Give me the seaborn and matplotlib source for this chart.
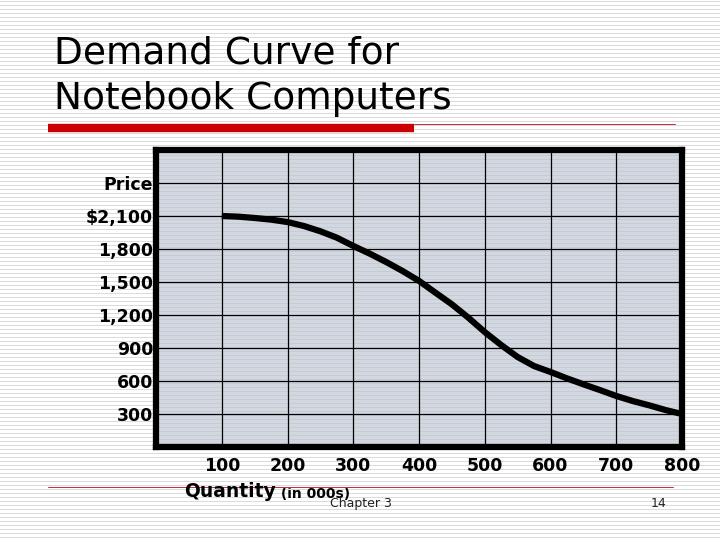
import numpy as np
import pandas as pd
import matplotlib
matplotlib.use("Agg")
import matplotlib.pyplot as plt
import seaborn as sns

# ---- data ----
quantity = [100, 125, 150, 175, 200, 225, 250, 275, 300, 325, 350, 375, 400,
            425, 450, 475, 500, 525, 550, 575, 600, 625, 650, 675, 700, 725, 750, 775, 800]
price = [2100, 2094, 2082, 2067, 2045, 2009, 1961, 1903, 1828, 1758, 1682, 1600, 1510,
         1403, 1297, 1176, 1045, 927, 818, 736, 682, 624, 570, 518, 464, 418, 379, 336, 300]
x_ticks = [100, 200, 300, 400, 500, 600, 700, 800]
x_labels = ["100", "200", "300", "400", "500", "600", "700", "800"]
y_ticks = [300, 600, 900, 1200, 1500, 1800, 2100, 2400]
y_labels = ["300", "600", "900", "1,200", "1,500", "1,800", "$2,100", "Price"]
title_line1 = "Demand Curve for"
title_line2 = "Notebook Computers"
xlabel_main = "Quantity"
xlabel_sub = " (in 000s)"
footer_left = "Chapter 3"
footer_right = "14"

df = pd.DataFrame({"Quantity": quantity, "Price": price})

sns.set_theme(style="white")
plt.rcParams["font.family"] = ["DejaVu Sans"]
plt.rcParams["text.color"] = "black"

W, H = 720, 540
fig = plt.figure(figsize=(7.2, 5.4), dpi=100)
fig.patch.set_facecolor("white")

# striped slide background
bg = fig.add_axes([0, 0, 1, 1], zorder=-10)
stripes = np.ones((H, 1, 3))
for r in range(H):
    if r % 4 == 1:
        stripes[r, 0, :] = 0.86
bg.imshow(stripes, aspect="auto", extent=[0, 1, 0, 1], interpolation="nearest")
bg.set_axis_off()

# decorations: red bar and thin lines
fig.add_artist(plt.Line2D([48 / W, 414 / W], [1 - 128 / H, 1 - 128 / H], color="#cc0000", lw=6, solid_capstyle="butt"))
fig.add_artist(plt.Line2D([414 / W, 675 / W], [1 - 123.5 / H, 1 - 123.5 / H], color="#b83040", lw=0.7))
fig.add_artist(plt.Line2D([48 / W, 673 / W], [1 - 487 / H, 1 - 487 / H], color="#b83040", lw=0.7))

# title
fig.text(54 / W, 1 - 63 / H, title_line1, fontsize=27, color="black", ha="left", va="baseline")
fig.text(54 / W, 1 - 109 / H, title_line2, fontsize=27, color="black", ha="left", va="baseline")

# main axes
left, right, top, bottom = 156, 682, 150, 447
ax = fig.add_axes([left / W, 1 - bottom / H, (right - left) / W, (bottom - top) / H])
ax.set_facecolor("#d2d8e0")
pstr = np.ones((bottom - top, 1, 3)) * np.array([0.83, 0.85, 0.88])
for r in range(bottom - top):
    if r % 4 == 1:
        pstr[r, 0, :] = [0.78, 0.80, 0.84]
ax.imshow(pstr, aspect="auto", extent=[0, 1, 0, 1], transform=ax.transAxes, zorder=0,
          interpolation="nearest")

sns.lineplot(data=df, x="Quantity", y="Price", ax=ax, color="black", linewidth=4.5,
             zorder=5, solid_capstyle="butt")

ax.set_xlim(0, 800)
ax.set_ylim(0, 2700)
ax.set_xticks(x_ticks)
ax.set_xticklabels(x_labels)
ax.set_yticks(y_ticks)
ax.set_yticklabels(y_labels)
ax.grid(True, color="black", linewidth=0.9)
for gl in ax.get_xgridlines() + ax.get_ygridlines():
    gl.set_zorder(2)
ax.tick_params(axis="both", length=0, labelsize=12.5, labelcolor="black")
ax.tick_params(axis="y", pad=2)
ax.tick_params(axis="x", pad=7)
for lab in ax.get_xticklabels() + ax.get_yticklabels():
    lab.set_fontweight("bold")
for s in ax.spines.values():
    s.set_visible(True)
    s.set_color("black")
    s.set_linewidth(4.5)
    s.set_zorder(6)
ax.set_xlabel("")
ax.set_ylabel("")

# x-axis caption
q = fig.text(184 / W, 1 - 497 / H, xlabel_main, fontsize=13.5, fontweight="bold",
             color="black", ha="left", va="baseline")
ax.annotate(xlabel_sub, xy=(1, 0), xycoords=q, fontsize=10, fontweight="bold", color="black",
            ha="left", va="bottom", annotation_clip=False)

# footer
fig.text(330 / W, 1 - 507 / H, footer_left, fontsize=9, color="#222222", ha="left", va="baseline")
fig.text(651 / W, 1 - 507 / H, footer_right, fontsize=9, color="#222222", ha="left", va="baseline")

fig.savefig("out.png", dpi=100)
